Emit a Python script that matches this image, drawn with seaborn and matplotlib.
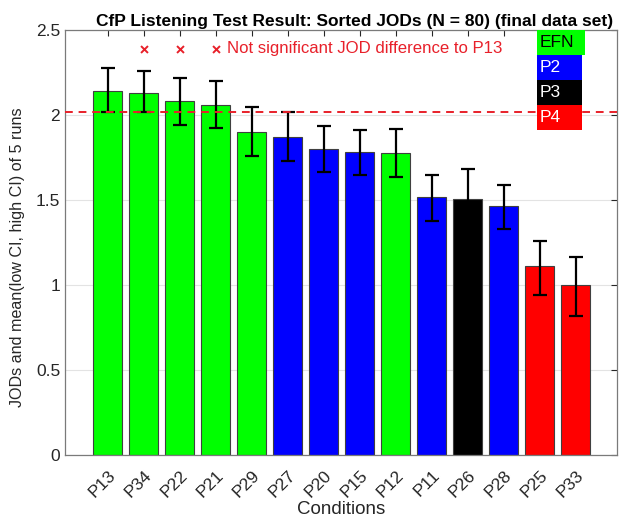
import matplotlib
matplotlib.use('Agg')
import matplotlib.pyplot as plt
import seaborn as sns
import pandas as pd
import numpy as np
from matplotlib.patches import Rectangle

# data
conditions = ['P13', 'P34', 'P22', 'P21', 'P29', 'P27', 'P20', 'P15', 'P12', 'P11', 'P26', 'P28', 'P25', 'P33']
groups = ['EFN', 'EFN', 'EFN', 'EFN', 'EFN', 'P2', 'P2', 'P2', 'EFN', 'P2', 'P3', 'P2', 'P4', 'P4']
jods = [2.14, 2.13, 2.08, 2.06, 1.90, 1.87, 1.80, 1.78, 1.775, 1.52, 1.505, 1.465, 1.11, 1.00]
ci_low = [2.02, 2.02, 1.94, 1.925, 1.76, 1.73, 1.665, 1.65, 1.635, 1.375, 1.33, 1.33, 0.94, 0.82]
ci_high = [2.275, 2.26, 2.22, 2.20, 2.045, 2.02, 1.935, 1.91, 1.92, 1.65, 1.68, 1.59, 1.257, 1.163]
not_significant = ['P34', 'P22', 'P21']
marker_level = 2.39
group_names = ['EFN', 'P2', 'P3', 'P4']
group_colors = {'EFN': '#00ff00', 'P2': '#0000ff', 'P3': '#000000', 'P4': '#ff0000'}
group_text = {'EFN': 'black', 'P2': 'white', 'P3': 'white', 'P4': 'white'}

df = pd.DataFrame({'cond': conditions, 'group': groups, 'jod': jods,
                   'low': ci_low, 'high': ci_high})

sns.set_style('white')
plt.rcParams['font.family'] = ['Liberation Sans', 'DejaVu Sans']
axis_gray = '#262626'

fig = plt.figure(figsize=(6.2, 5.2), dpi=100)
ax = fig.add_axes([65 / 620, 1 - 455 / 520, 552 / 620, 425 / 520])

ax.grid(True, color='#e3e3e3', linewidth=0.8)
ax.set_axisbelow(True)

sns.barplot(data=df, x='cond', y='jod', hue='group', order=conditions,
            palette=group_colors, saturation=1, dodge=False, legend=False, width=0.8,
            edgecolor='#404040', linewidth=0.8, ax=ax, zorder=2)

# error bars from low CI to high CI
xs = np.arange(len(conditions))
ax.errorbar(xs, df['jod'], yerr=[df['jod'] - df['low'], df['high'] - df['jod']],
            fmt='none', ecolor='black', elinewidth=1.6, capsize=5, capthick=1.6, zorder=3)

# significance threshold (lower CI of the best condition)
ax.axhline(df['low'].iloc[0], color='#e8202a', linestyle=(0, (4, 3)), linewidth=1.4, zorder=4)

# markers for conditions not significantly different
ns_x = [conditions.index(c) for c in not_significant]
ax.scatter(ns_x, [marker_level] * len(ns_x), marker='x', color='#e8202a', s=25,
           linewidths=1.4, zorder=5)
ax.text(ns_x[-1] + 0.3, marker_level, 'Not significant JOD difference to P13',
        color='#e8202a', fontsize=12.1, va='center', ha='left')

ax.set_xlim(-1.19, 14.15)
ax.set_ylim(0, 2.5)
ax.set_yticks([0, 0.5, 1, 1.5, 2, 2.5])
ax.set_yticklabels(['0', '0.5', '1', '1.5', '2', '2.5'])
ax.set_xticks(xs)
ax.set_xticklabels(conditions, rotation=45, ha='right', rotation_mode='anchor')
ax.tick_params(direction='in', top=True, right=True, length=4, width=0.8,
               colors=axis_gray, labelsize=12.5)
ax.tick_params(axis='x', pad=9)
for s in ax.spines.values():
    s.set_color('#7a7a7a')
    s.set_linewidth(0.9)

ax.set_xlabel('Conditions', fontsize=13.5, color=axis_gray, labelpad=1)
ax.set_ylabel('JODs and mean(low CI, high CI) of 5 runs', fontsize=11.6, color=axis_gray)
ax.yaxis.set_label_coords(-0.072, 0.465)
ax.set_title('CfP Listening Test Result: Sorted JODs (N = 80) (final data set)',
             fontsize=12.5, fontweight='bold', color='black', pad=3, x=0.525)

# colored legend boxes at top right
box_x = (537 - 65) / 552
box_h = 25 / 425
for i, g in enumerate(group_names):
    w = (48 if i == 0 else 45) / 552
    y0 = 1 - (i + 1) * box_h
    ax.add_patch(Rectangle((box_x, y0), w, box_h, transform=ax.transAxes,
                           facecolor=group_colors[g], edgecolor='none', zorder=6))
    ax.text(box_x + 0.005, y0 + box_h / 2, g, transform=ax.transAxes,
            color=group_text[g], fontsize=12.5, va='center', ha='left', zorder=7)

fig.savefig('out.png', dpi=100)
